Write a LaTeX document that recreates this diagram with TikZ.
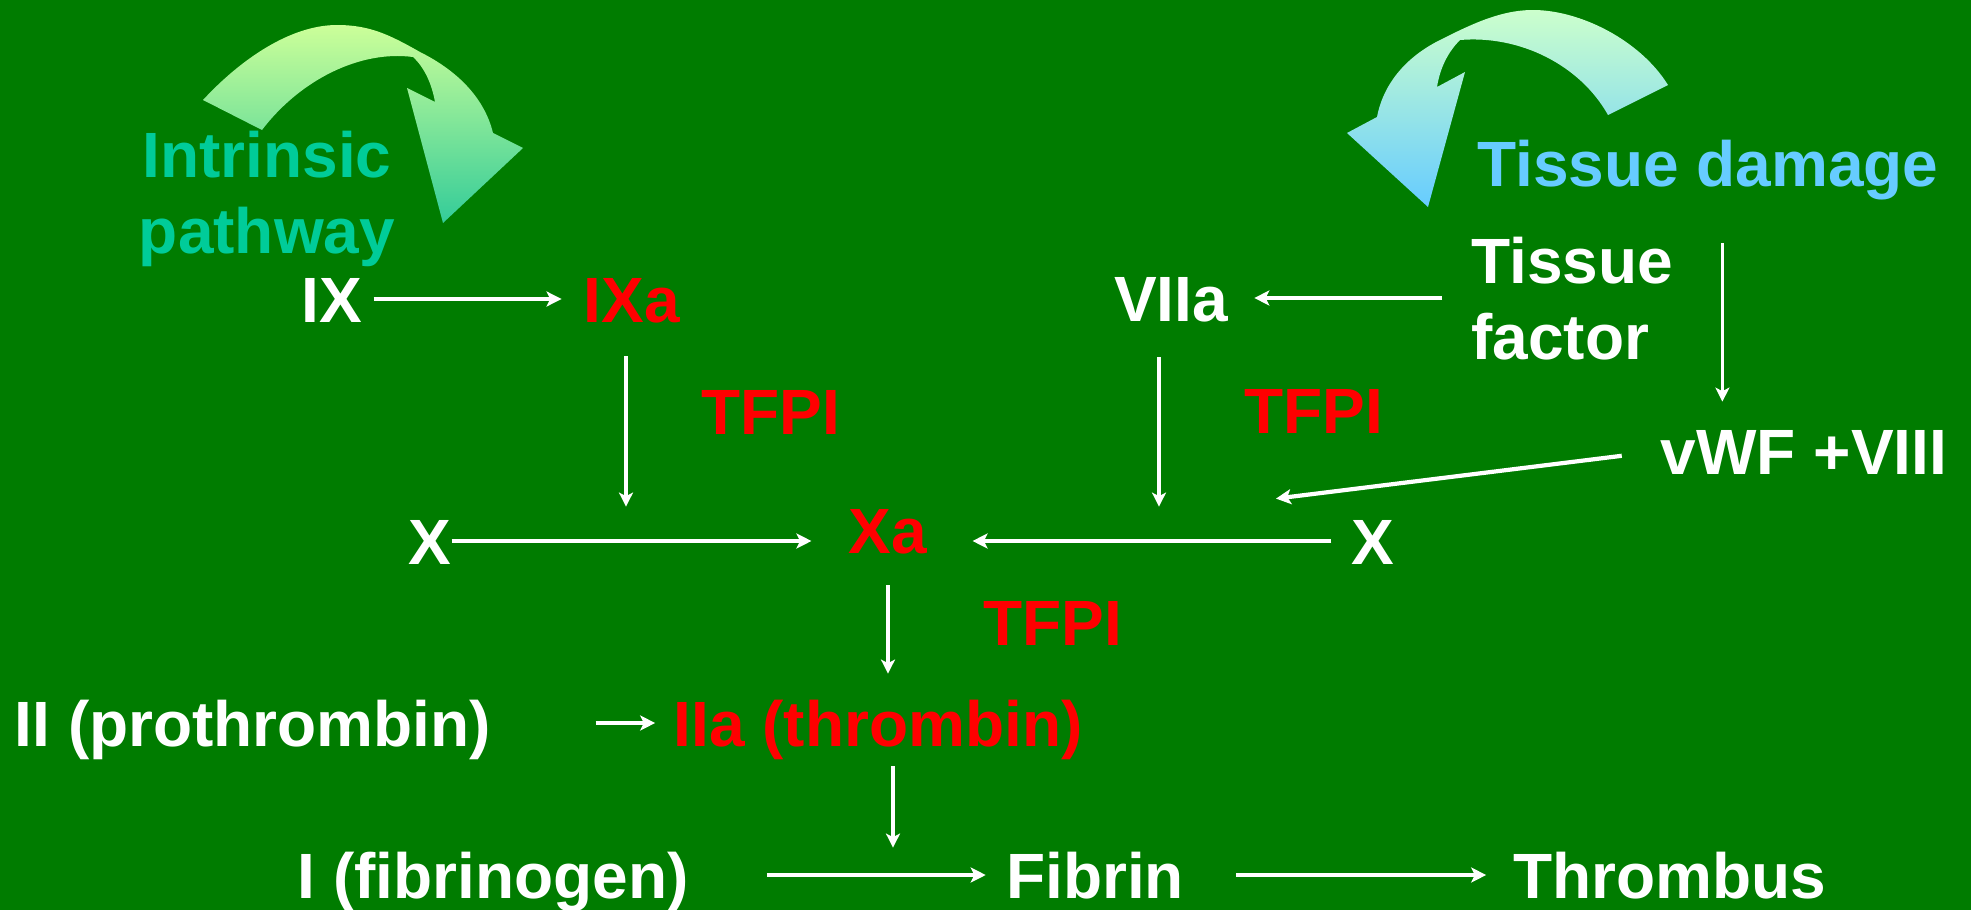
\documentclass[tikz,border=0pt]{standalone}
\usepackage{fontspec}
\setmainfont{Liberation Sans}
\usepackage{tikz}
\usetikzlibrary{arrows.meta}
\usepackage{color}
\definecolor{Slide-bg}{RGB}{0,124,0}
\definecolor{Slide-red}{RGB}{255,0,0}
\definecolor{Slide-teal}{RGB}{0,204,153}
\definecolor{Slide-blue}{RGB}{102,204,255}
\definecolor{Swoop-lime}{RGB}{204,255,153}
\definecolor{Swoop-sea}{RGB}{51,204,153}
\definecolor{Swoop-mint}{RGB}{204,255,204}
\definecolor{Swoop-sky}{RGB}{102,204,255}

\begin{document}
\begin{tikzpicture}[x=0.5pt, y=-0.5pt]
    \tikzset{ txt/.style ={text=white, font=\fontsize{32}{38}\selectfont\bfseries, inner sep=0pt, anchor=base} }
    \tikzset{ fac/.style ={txt, text height=23pt, text depth=0pt} }
    \tikzset{ act/.style ={fac, text=Slide-red} }
    \tikzset{ thk/.style ={draw=white, line width=2.1pt, -{Stealth[length=7.5pt, width=7.5pt, inset=1.8pt]}} }
    \tikzset{ thn/.style ={draw=white, line width=1.7pt, -{Stealth[length=7pt, width=7pt, inset=1.8pt]}} }

    \fill[Slide-bg] (0,0) rectangle (1971,910);
    \useasboundingbox (0,0) rectangle (1971,910);

    % curved arrows
    \shade[top color=Swoop-lime, bottom color=Swoop-sea] (203,100) .. controls (240,60) and (290,25) .. (337,25) .. controls (370,25) and (390,35) .. (420,52) .. controls (460,72) and (485,100) .. (493,133) -- (523,148) -- (443,223) -- (407,88) -- (435,102) .. controls (432,85) and (425,68) .. (413,57) .. controls (360,50) and (300,80) .. (262,130) -- cycle;
    \shade[top color=Swoop-mint, bottom color=Swoop-sky] (1668,85) .. controls (1640,40) and (1580,10) .. (1533,10) .. controls (1500,10) and (1470,25) .. (1440,40) .. controls (1400,60) and (1382,90) .. (1377,117) -- (1347,133) -- (1428,207) -- (1465,72) -- (1437,87) .. controls (1440,68) and (1448,52) .. (1460,40) .. controls (1520,35) and (1580,65) .. (1608,115) -- cycle;

    \node[txt, text=Slide-teal, align=center  ] (intr)  at ( 267,253) {Intrinsic\\pathway};
    \node[txt, text=Slide-blue                ] (tdam)  at (1708,186) {Tissue damage};
    \node[fac                                 ] (f9)    at ( 332,322) {IX};
    \node[act                                 ] (f9a)   at ( 632,322) {IXa};
    \node[fac                                 ] (f7a)   at (1171,321) {VIIa};
    \node[txt, align=left, anchor=base west   ] (tf)    at (1471,359) {Tissue\\factor};
    \node[act                                 ] (tfpi1) at ( 771,434) {TFPI};
    \node[act                                 ] (tfpi2) at (1314,433) {TFPI};
    \node[fac                                 ] (vwf)   at (1804,474) {vWF +VIII};
    \node[fac                                 ] (x1)    at ( 430,564) {X};
    \node[act                                 ] (f10a)  at ( 888,553) {Xa};
    \node[fac                                 ] (x2)    at (1373,564) {X};
    \node[act                                 ] (tfpi3) at (1053,645) {TFPI};
    \node[fac                                 ] (f2)    at ( 253,746) {II (prothrombin)};
    \node[act                                 ] (f2a)   at ( 878,746) {IIa (thrombin)};
    \node[fac                                 ] (f1)    at ( 493,898) {I (fibrinogen)};
    \node[fac                                 ] (fib)   at (1095,898) {Fibrin};
    \node[fac                                 ] (thr)   at (1670,898) {Thrombus};

    \coordinate (j1)    at (f9a.south |- x1.north);
    \coordinate (j2)    at (f7a.south |- x2.north);
    \coordinate (j3)    at (f2a.south |- fib.north);
    \coordinate (tfdn)  at ([xshift=24.5pt, yshift=-3.5pt]tf.north east);
    \coordinate (vwfin) at ([xshift=-48.5pt, yshift=9.5pt]x2.north);

    \draw[thk, shorten <=5.5pt,  shorten >=11pt  ] (f9.east)             -- (f9a.west);
    \draw[thk, shorten <=14.5pt, shorten >=13pt  ] (tf.west |- f7a.east) -- (f7a.east);
    \draw[thn,                   shorten >=13pt  ] (tfdn)                -- (tfdn |- vwf.north);
    \draw[thn, shorten <=17pt,   shorten >=5.5pt ] ([xshift=-3pt]f9a.south) -- ([xshift=-3pt]j1);
    \draw[thn, shorten <=18pt,   shorten >=5.5pt ] ([xshift=-6pt]f7a.south) -- ([xshift=-6pt]j2);
    \draw[thk,                   shorten >=18.5pt] (x1.east)             -- (x1.east -| f10a.west);
    \draw[thk, shorten <=10pt,   shorten >=22.5pt] (x2.west)             -- (x2.west -| f10a.east);
    \draw[thk, shorten <=19.5pt                  ] (vwf.west)            -- (vwfin);
    \draw[thn, shorten <=16pt,   shorten >=13pt  ] (f10a.south)          -- (f10a.south |- f2a.north);
    \draw[thk, shorten <=52pt,   shorten >=9pt   ] (f2.east)             -- (f2.east -| f2a.west);
    \draw[thn, shorten <=10pt,   shorten >=2pt   ] ([xshift=7.5pt]f2a.south) -- ([xshift=7.5pt]j3);
    \draw[thk, shorten <=39pt,   shorten >=10pt  ] (f1.east)             -- (fib.west);
    \draw[thk, shorten <=26pt,   shorten >=13.5pt] (fib.east)            -- (thr.west);
  \end{tikzpicture}
\end{document}
